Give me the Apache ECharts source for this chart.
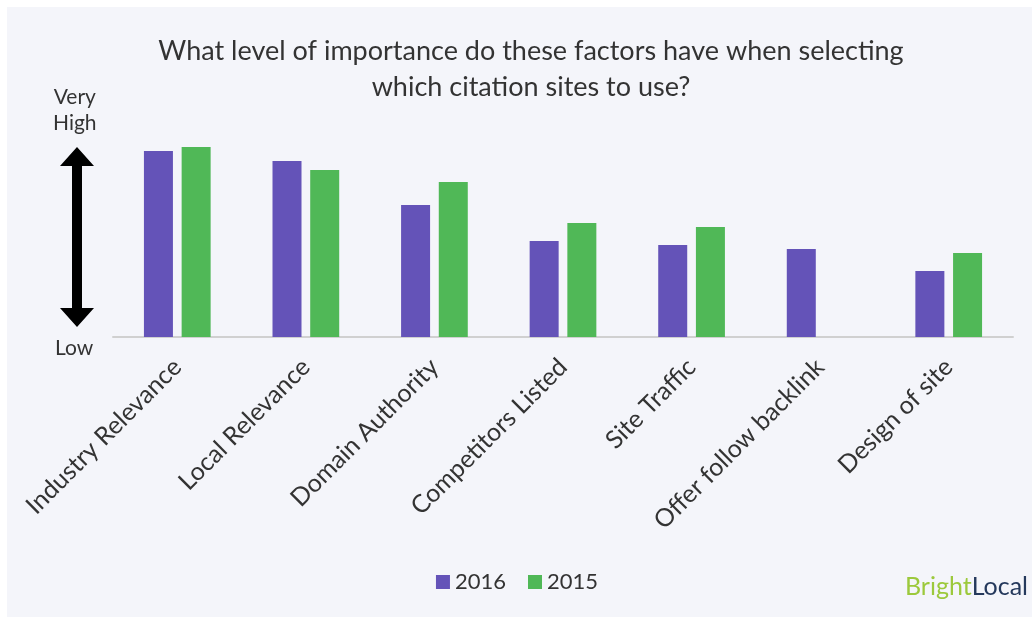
<!DOCTYPE html>
<html><head><meta charset="utf-8">
<script src="https://cdn.jsdelivr.net/npm/echarts@6/dist/echarts.min.js"></script>
<style>html,body{margin:0;padding:0;background:#fff;}#c{width:1034px;height:618px;}</style>
</head><body><div id="c"></div>
<script>
var categories = ["Industry Relevance","Local Relevance","Domain Authority","Competitors Listed","Site Traffic","Offer follow backlink","Design of site"];
var values2016 = [186,176,132,96,92,88,66];
var values2015 = [190,167,155,114,110,null,84];
var seriesNames = ["2016","2015"];
var titleText = "What level of importance do these factors have when selecting\nwhich citation sites to use?";

var chart = echarts.init(document.getElementById('c'));
var font = 'Lato';
chart.setOption({
  backgroundColor: '#ffffff',
  animation: false,
  title: {
    text: titleText, left: 526, top: 28, textAlign: 'center',
    textStyle: {fontFamily: font, fontSize: 27, fontWeight: 'normal', color: '#333', lineHeight: 36}
  },
  legend: {
    data: seriesNames, left: 'center', top: 566, itemWidth: 14, itemHeight: 14, itemGap: 22,
    icon: 'rect',
    textStyle: {fontFamily: font, fontSize: 22, color: '#333'}
  },
  grid: {left: 113, right: 21, top: 137, bottom: 281},
  xAxis: {
    type: 'category', data: categories,
    axisLine: {lineStyle: {color: '#d0d0d0', width: 2}},
    axisTick: {show: false},
    axisLabel: {rotate: 45, interval: 0, margin: 26, fontFamily: font, fontSize: 25, color: '#333'}
  },
  yAxis: {type: 'value', min: 0, max: 200, show: false, splitLine: {show: false}},
  graphic: [
    {type: 'rect', z: -10, shape: {x: 7, y: 7, width: 1025, height: 610}, style: {fill: '#f4f5fa'}},
    {type: 'text', left: 53, top: 84, style: {text: 'Very\nHigh', font: '21px Lato', fill: '#333', textAlign: 'center', lineHeight: 26}},
    {type: 'text', left: 55, top: 338, style: {text: 'Low', font: '21px Lato', fill: '#333'}},
    {type: 'polygon', shape: {points: [[77,147],[94,166],[82,166],[82,308],[94,308],[77,327],[60,308],[72,308],[72,166],[60,166]]}, style: {fill: '#000'}},
    {type: 'text', right: 6, top: 574, style: {
      text: '{a|Bright}{b|Local}',
      rich: {a: {fill: '#9cc93c', font: '25px Lato'}, b: {fill: '#25395c', font: '25px Lato'}}
    }}
  ],
  series: [
    {name: seriesNames[0], type: 'bar', data: values2016, barWidth: 29, barGap: '30%', itemStyle: {color: '#6453b8'}},
    {name: seriesNames[1], type: 'bar', data: values2015, barWidth: 29, barGap: '30%', itemStyle: {color: '#50b857'}}
  ]
});
</script></body></html>
